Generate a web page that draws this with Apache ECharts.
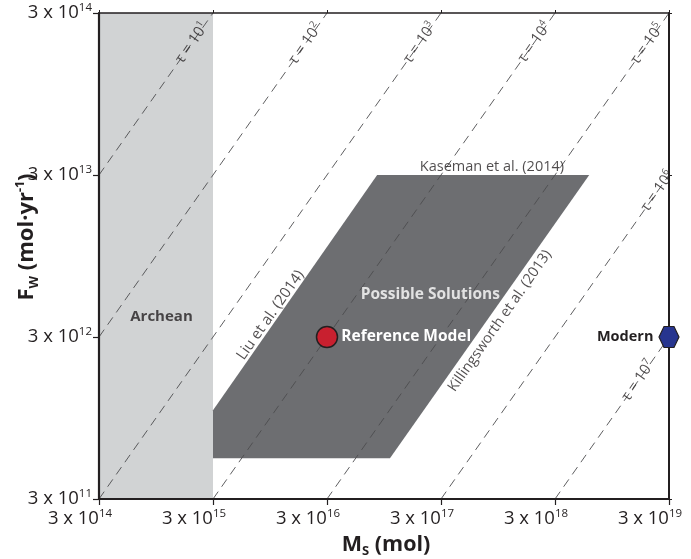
<!DOCTYPE html>
<html><head><meta charset="utf-8">
<script src="https://cdn.jsdelivr.net/npm/echarts@6/dist/echarts.min.js"></script>
<style>html,body{margin:0;padding:0;background:#fff}#c{width:691px;height:559px}</style>
</head><body><div id="c"></div>
<script>
// ---- data ----
const xTickValues = [3e14, 3e15, 3e16, 3e17, 3e18, 3e19];      // Ms (mol)
const yTickValues = [3e11, 3e12, 3e13, 3e14];                  // Fw (mol/yr)
const tauExponents = [1, 2, 3, 4, 5, 6, 7];                    // tau = 10^n
const archeanRangeM = [3e14, 3e15];
const solutionPolygonM = [3e15, 3e15, 8.26e16, 5.99e18, 1.07e17];
const solutionPolygonF = [5.35e11, 1.06e12, 3e13, 3e13, 5.35e11];
const referenceModel = [3e16, 3e12];
const modernPoint = [3e19, 3e12];
const annotationTexts = ['Archean', 'Possible Solutions', 'Kaseman et al. (2014)', 'Liu et al. (2014)', 'Killingsworth et al. (2013)'];
const annotationM = [1.06e15, 2.42e17, 8.39e17, 9.6e15, 9.86e17];
const annotationF = [4.0e12, 5.52e12, 3.37e13, 4.1e12, 3.77e12];

// ---- layout / style helpers ----
const L = Math.log10;
const FONT = "'Open Sans', sans-serif";
const INK = '#231f20';
const xMin = L(xTickValues[0]), xMax = L(xTickValues[xTickValues.length - 1]);
const yMin = L(yTickValues[0]), yMax = L(yTickValues[yTickValues.length - 1]);
const tauLabelShift = [0.17, 0.17, 0.16, 0.155, 0.165, 0.055, 0.24];
const tauLabelOffset = [[-3, 0], [-4, 0], [-5, 0], [-5, 0], [-5, 0], [-9, 0], [-6, 0]];
const LINE_ANGLE = 55;
const annStyles = [
  {fontWeight: 'bold', color: INK, fontSize: 15, rotate: 0},
  {fontWeight: 'bold', color: '#ffffff', fontSize: 15.5, rotate: 0},
  {fontWeight: 'normal', color: INK, fontSize: 14.5, rotate: 0},
  {fontWeight: 'normal', color: INK, fontSize: 15, rotate: LINE_ANGLE},
  {fontWeight: 'normal', color: INK, fontSize: 14.5, rotate: LINE_ANGLE}
];

const expOf = v => Math.round(v - L(3));
const tickFmt = v => '{b|3 x 10}{s|' + expOf(v) + '}';
const tickRich = {
  b: {fontSize: 18.5, fontFamily: FONT, color: INK, lineHeight: 22},
  s: {fontSize: 11.5, fontFamily: FONT, color: INK, lineHeight: 17, verticalAlign: 'top'}
};

// tau lines, clipped to the axis box
const tauSeries = tauExponents.map(n => {
  const tau = Math.pow(10, n);
  const m0 = Math.max(xTickValues[0], tau * yTickValues[0]);
  const m1 = Math.min(xTickValues[xTickValues.length - 1], tau * yTickValues[yTickValues.length - 1]);
  return {
    type: 'line', name: 'tau' + n, silent: true, z: 4, symbol: 'none',
    lineStyle: {color: '#4d4d4f', width: 0.9, type: [9, 6]},
    data: [[L(m0), L(m0 / tau)], [L(m1), L(m1 / tau)]]
  };
});
const tauLabelData = tauExponents.map((n, i) => {
  const tau = Math.pow(10, n);
  const m1 = Math.min(xTickValues[xTickValues.length - 1], tau * yTickValues[yTickValues.length - 1]);
  const s = tauLabelShift[i];
  return {
    value: [L(m1) - s, L(m1 / tau) - s],
    label: {formatter: '{b|τ = 10}{s|' + n + '}', offset: tauLabelOffset[i]}
  };
});

const chart = echarts.init(document.getElementById('c'));
chart.setOption({
  animation: false,
  backgroundColor: '#ffffff',
  textStyle: {fontFamily: FONT},
  grid: {left: 99, right: 22, top: 13, bottom: 60, containLabel: false},
  xAxis: [{
    type: 'value', min: xMin, max: xMax, z: 10,
    axisLine: {show: true, onZero: false, lineStyle: {color: INK, width: 2.2}},
    axisTick: {show: true, customValues: xTickValues.map(L), length: 6, lineStyle: {color: INK, width: 1.2}},
    axisLabel: {customValues: xTickValues.map(L), formatter: tickFmt, rich: tickRich, margin: 9, padding: [0, 38, 0, 0]},
    splitLine: {show: false}
  }, {
    type: 'value', min: xMin, max: xMax, position: 'top', z: 10,
    axisLine: {show: true, onZero: false, lineStyle: {color: INK, width: 1.5}},
    axisTick: {show: true, customValues: xTickValues.map(L), length: 3, lineStyle: {color: INK, width: 1}},
    axisLabel: {show: false}, splitLine: {show: false}
  }],
  yAxis: [{
    type: 'value', min: yMin, max: yMax, z: 10,
    axisLine: {show: true, onZero: false, lineStyle: {color: INK, width: 2.2}},
    axisTick: {show: true, customValues: yTickValues.map(L), length: 6, lineStyle: {color: INK, width: 1.2}},
    axisLabel: {customValues: yTickValues.map(L), formatter: tickFmt, rich: tickRich, margin: 7},
    splitLine: {show: false}
  }, {
    type: 'value', min: yMin, max: yMax, position: 'right', z: 10,
    axisLine: {show: true, onZero: false, lineStyle: {color: INK, width: 2}},
    axisTick: {show: true, customValues: yTickValues.map(L), length: 3, lineStyle: {color: INK, width: 1}},
    axisLabel: {show: false}, splitLine: {show: false}
  }],
  graphic: [
    {type: 'text', x: 27, y: 237, rotation: Math.PI / 2, z: 100,
     style: {text: '{m|F}{sub|W}{m| (mol·yr}{sup|-1}{m|)}', align: 'center', verticalAlign: 'middle',
       rich: {
         m: {fontSize: 22, fontWeight: 'bold', fontFamily: FONT, fill: INK, lineHeight: 27},
         sub: {fontSize: 13, fontWeight: 'bold', fontFamily: FONT, fill: INK, lineHeight: 10, verticalAlign: 'bottom'},
         sup: {fontSize: 12.5, fontWeight: 'bold', fontFamily: FONT, fill: INK, lineHeight: 17, verticalAlign: 'top'}
       }}},
    {type: 'text', x: 386, y: 545, z: 100,
     style: {text: '{m|M}{sub|S}{m| (mol)}', align: 'center', verticalAlign: 'middle',
       rich: {
         m: {fontSize: 21.5, fontWeight: 'bold', fontFamily: FONT, fill: INK, lineHeight: 26},
         sub: {fontSize: 13, fontWeight: 'bold', fontFamily: FONT, fill: INK, lineHeight: 3, verticalAlign: 'bottom'}
       }}}
  ],
  series: [
    {
      type: 'custom', name: 'Archean', silent: true, z: 1, data: [[xMin, yMin]],
      renderItem: (params, api) => {
        const p0 = api.coord([L(archeanRangeM[0]), yMax]);
        const p1 = api.coord([L(archeanRangeM[1]), yMin]);
        return {type: 'rect', shape: {x: p0[0], y: p0[1], width: p1[0] - p0[0], height: p1[1] - p0[1]},
                style: {fill: '#d1d3d4'}};
      }
    },
    {
      type: 'custom', name: 'Possible Solutions', silent: true, z: 2, data: [[xMin, yMin]],
      renderItem: (params, api) => {
        const pts = solutionPolygonM.map((m, i) => api.coord([L(m), L(solutionPolygonF[i])]));
        return {type: 'polygon', shape: {points: pts}, style: {fill: '#6d6e71'}};
      }
    },
    ...tauSeries,
    {
      type: 'scatter', name: 'tauLabels', silent: true, z: 6, symbolSize: 0,
      data: tauLabelData,
      label: {show: true, position: 'inside', rotate: LINE_ANGLE,
        rich: {b: {fontSize: 15, fontFamily: FONT, color: INK, lineHeight: 19},
               s: {fontSize: 9.5, fontFamily: FONT, color: INK, lineHeight: 12, verticalAlign: 'top'}}}
    },
    {
      type: 'scatter', name: 'annotations', silent: true, z: 6, symbolSize: 0, clip: false,
      data: annotationTexts.map((t, i) => ({
        value: [L(annotationM[i]), L(annotationF[i])],
        label: Object.assign({show: true, position: 'inside', formatter: t, fontFamily: FONT}, annStyles[i])
      }))
    },
    {
      type: 'scatter', name: 'Reference Model', z: 20, clip: false, symbol: 'circle', symbolSize: 21,
      itemStyle: {color: '#c8202f', borderColor: INK, borderWidth: 1.5, opacity: 1},
      label: {show: true, position: 'right', distance: 3, formatter: 'Reference Model',
              color: '#ffffff', fontWeight: 'bold', fontSize: 15.5, fontFamily: FONT},
      data: [[L(referenceModel[0]), L(referenceModel[1])]]
    },
    {
      type: 'scatter', name: 'Modern', z: 20, clip: false,
      symbol: 'path://M0,50 L25,0 L75,0 L100,50 L75,100 L25,100 Z', symbolKeepAspect: false, symbolSize: [20, 21],
      itemStyle: {color: '#27358f', borderColor: INK, borderWidth: 1.2, opacity: 1},
      label: {show: true, position: 'left', distance: 5, formatter: 'Modern',
              color: INK, fontWeight: 'bold', fontSize: 14.5, fontFamily: FONT},
      data: [[L(modernPoint[0]), L(modernPoint[1])]]
    }
  ]
});
</script></body></html>
